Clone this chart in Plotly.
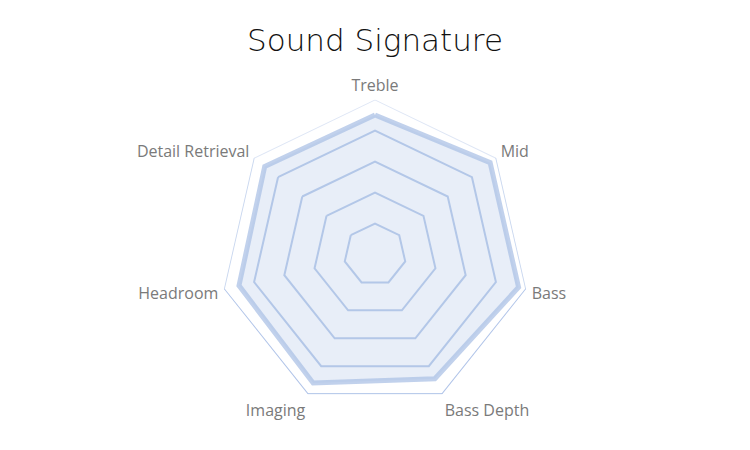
import math
import plotly.graph_objects as go

categories = ["Treble", "Mid", "Bass", "Bass Depth", "Imaging", "Headroom", "Detail Retrieval"]
values = [9.0, 9.5, 9.5, 8.9, 9.2, 9.0, 9.1]
max_value = 10
grid_levels = [2, 4, 6, 8]

fig = go.Figure()

# data area
fig.add_trace(go.Scatterpolar(
    r=values + [values[0]],
    theta=categories + [categories[0]],
    mode="lines",
    fill="toself",
    fillcolor="rgba(180,199,231,0.30)",
    line=dict(color="rgba(172,193,230,0.75)", width=5),
    hoverinfo="skip",
    showlegend=False,
))

# outer boundary with vertical gradient
light = (228, 235, 247)
dark = (160, 184, 228)
n = len(categories)
for i in range(n):
    a1 = 2 * math.pi * i / n
    a2 = 2 * math.pi * ((i + 1) % n) / n
    t = (1 - (math.cos(a1) + math.cos(a2)) / 2) / 2
    t = max(0.0, min(1.0, t))
    c = tuple(round(light[k] + (dark[k] - light[k]) * t) for k in range(3))
    fig.add_trace(go.Scatterpolar(
        r=[max_value, max_value],
        theta=[categories[i], categories[(i + 1) % n]],
        mode="lines",
        line=dict(color="rgb(%d,%d,%d)" % c, width=1.8),
        hoverinfo="skip",
        showlegend=False,
    ))

fig.update_layout(
    width=750, height=450,
    margin=dict(l=0, r=0, t=0, b=0),
    paper_bgcolor="white",
    plot_bgcolor="white",
    title=dict(text="Sound Signature", x=0.5, xanchor="center", y=1 - 40 / 450, yanchor="middle",
               font=dict(family="DejaVu Sans", size=31, color="#111111", weight=200)),
    polar=dict(
        domain=dict(x=[0, 1], y=[40.5 / 450, 350.5 / 450]),
        bgcolor="rgba(0,0,0,0)",
        gridshape="linear",
        radialaxis=dict(range=[0, max_value], tickvals=grid_levels, showticklabels=False,
                        ticks="", showline=False, gridcolor="rgb(180,200,232)", gridwidth=1.6),
        angularaxis=dict(rotation=90, direction="clockwise", showgrid=False, showline=False,
                         ticks="outside", ticklen=2, tickcolor="rgba(0,0,0,0)",
                         tickfont=dict(family="Open Sans", size=16, color="#7a7a7a")),
    ),
)

fig.write_html("out.html", config={"displayModeBar": False},
               post_script="document.body.style.margin='0px';")
